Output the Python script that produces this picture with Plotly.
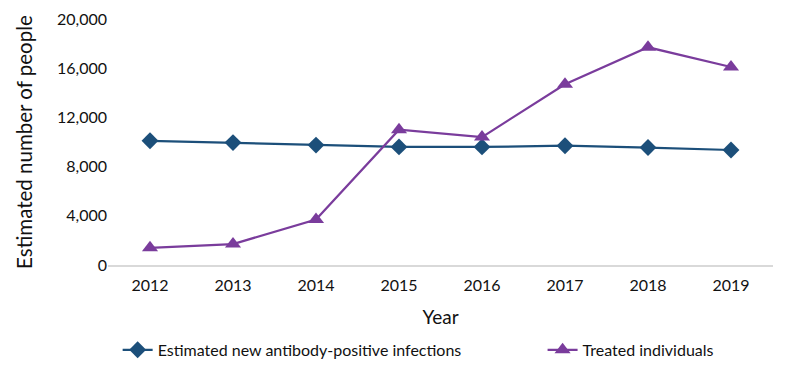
import plotly.graph_objects as go

years = ["2012", "2013", "2014", "2015", "2016", "2017", "2018", "2019"]
new_infections = [10100, 9950, 9750, 9600, 9600, 9700, 9550, 9350]
treated = [1400, 1700, 3700, 11000, 10400, 14700, 17700, 16100]
y_ticks = [0, 4000, 8000, 12000, 16000, 20000]

blue = "#1C4F7A"
purple = "#7A3C9C"
font = "Lato"

fig = go.Figure()
fig.add_trace(go.Scatter(
    x=years, y=new_infections, mode="lines+markers",
    name="Estimated new antibody-positive infections",
    line=dict(color=blue, width=2.25),
    marker=dict(symbol="diamond", size=13, color=blue),
    legend="legend",
))
fig.add_trace(go.Scatter(
    x=years, y=treated, mode="lines+markers",
    name="Treated individuals",
    line=dict(color=purple, width=2.25),
    marker=dict(symbol="triangle-up", size=14, color=purple),
    legend="legend2",
))

legend_style = dict(
    orientation="h", xanchor="left", y=-0.345, yanchor="middle",
    font=dict(size=16, family=font, color="#111111"),
    itemwidth=30, bgcolor="rgba(0,0,0,0)",
)

fig.update_layout(
    width=792, height=381,
    margin=dict(l=100, r=27, t=11, b=124, autoexpand=False),
    paper_bgcolor="white", plot_bgcolor="white",
    font=dict(family=font, size=15, color="#111111"),
    showlegend=True,
    legend=dict(x=0.0145, **legend_style),
    legend2=dict(x=0.6535, **legend_style),
    xaxis=dict(
        type="category", showgrid=False, showline=True, linecolor="#D9D9D9",
        linewidth=1.5, ticks="", tickfont=dict(size=16), automargin=False,
        ticklabelstandoff=5,
        title=dict(text="Year", font=dict(size=19), standoff=18),
    ),
    yaxis=dict(
        range=[0, 20000], tickvals=y_ticks, tickformat=",",
        showgrid=False, showline=False, zeroline=False, ticks="",
        tickfont=dict(size=16), automargin=False,
        title=dict(text="Estimated number of people", font=dict(size=20.5), standoff=18),
    ),
)

fig.write_html("out.html")
